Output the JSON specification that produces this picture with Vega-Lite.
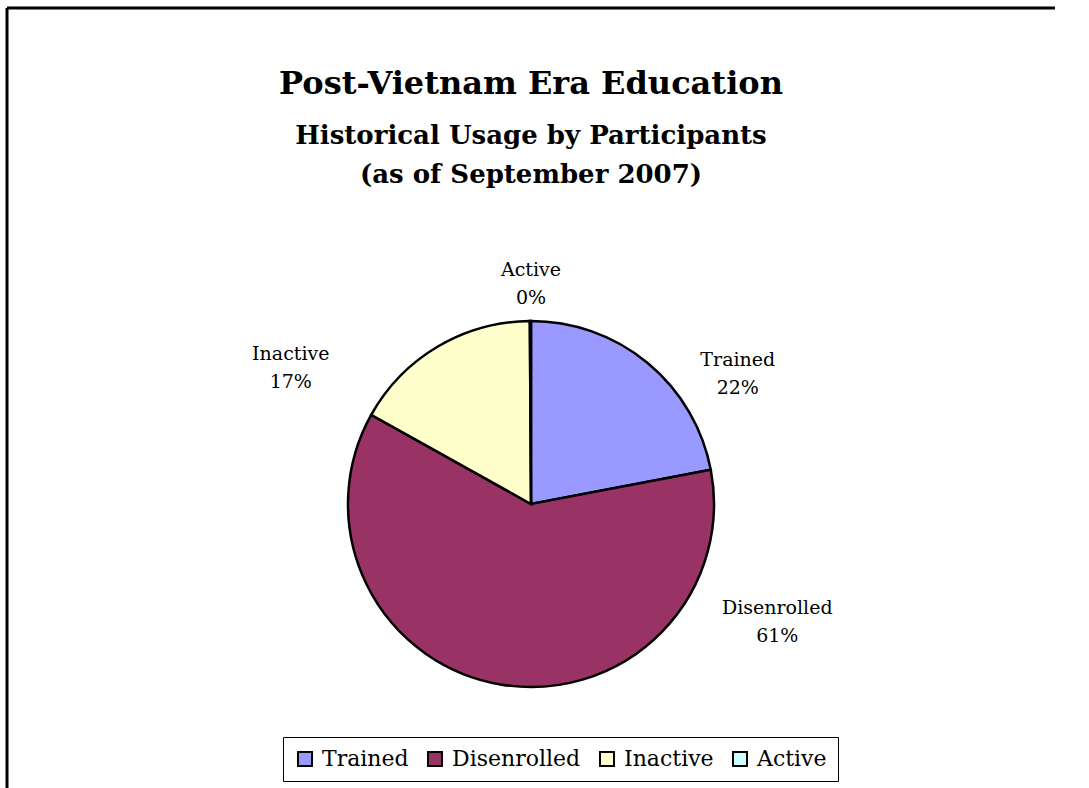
{
  "$schema": "https://vega.github.io/schema/vega-lite/v6.json",
  "width": 1048,
  "height": 992,
  "autosize": {"type": "none"},
  "padding": {"left": 7, "top": 8, "right": 0, "bottom": -212},
  "background": "white",
  "view": {"stroke": "black", "strokeWidth": 3, "fill": "white", "strokeDash": [1048, 2040, 992, 0]},
  "config": {
    "font": "DejaVu Serif"
  },
  "title": {
    "text": "Post-Vietnam Era Education",
    "subtitle": ["Historical Usage by Participants", "(as of September 2007)"],
    "anchor": "middle",
    "frame": "group",
    "orient": "top",
    "offset": -181,
    "font": "DejaVu Serif",
    "fontSize": 32,
    "fontWeight": "bold",
    "color": "black",
    "subtitleFont": "DejaVu Serif",
    "subtitleFontSize": 26,
    "subtitleFontWeight": "bold",
    "subtitleColor": "black",
    "subtitleLineHeight": 39,
    "subtitlePadding": 22
  },
  "data": {
    "values": [
      {"category": "Trained", "value": 22.0},
      {"category": "Disenrolled", "value": 61.1},
      {"category": "Inactive", "value": 16.8},
      {"category": "Active", "value": 0.1}
    ]
  },
  "transform": [
    {"joinaggregate": [{"op": "sum", "field": "value", "as": "total"}]},
    {"calculate": "indexof(['Trained','Disenrolled','Inactive','Active'], datum.category)", "as": "rank"},
    {"stack": "value", "groupby": [], "sort": [{"field": "rank", "order": "ascending"}], "as": ["v0", "v1"]},
    {"calculate": "(datum.v0 + datum.v1) / 2", "as": "mid"},
    {"calculate": "datum.category + '\\n' + format(datum.value / datum.total, '.0%')", "as": "label"}
  ],
  "layer": [
    {
      "mark": {"type": "arc", "radius": 183, "stroke": "black", "strokeWidth": 2.5},
      "encoding": {
        "theta": {"field": "v0", "type": "quantitative", "scale": {"domain": [0, 100]}},
        "theta2": {"field": "v1"},
        "color": {
          "field": "category",
          "type": "nominal",
          "scale": {
            "domain": ["Trained", "Disenrolled", "Inactive", "Active"],
            "range": ["#9999FF", "#993366", "#FFFFCC", "#CCFFFF"]
          },
          "legend": {
            "orient": "none",
            "legendX": 276,
            "legendY": 729,
            "direction": "horizontal",
            "title": null,
            "symbolType": "square",
            "symbolSize": 196,
            "symbolStrokeColor": "black",
            "symbolStrokeWidth": 2,
            "symbolOpacity": 1,
            "labelFont": "DejaVu Serif",
            "labelFontSize": 22,
            "labelColor": "black",
            "labelOffset": 6,
            "columnPadding": 15,
            "padding": 11,
            "strokeColor": "black",
            "fillColor": "white"
          }
        }
      }
    },
    {
      "transform": [{"filter": "datum.category == 'Trained'"}],
      "mark": {"type": "text", "radius": 244, "thetaOffset": 0.32, "dy": -14, "lineBreak": "\n", "fontSize": 19, "lineHeight": 28, "font": "DejaVu Serif", "color": "black"},
      "encoding": {"theta": {"field": "mid", "type": "quantitative"}, "text": {"field": "label"}}
    },
    {
      "transform": [{"filter": "datum.category == 'Disenrolled'"}],
      "mark": {"type": "text", "radius": 273, "thetaOffset": -1.285, "dy": -14, "lineBreak": "\n", "fontSize": 19, "lineHeight": 28, "font": "DejaVu Serif", "color": "black"},
      "encoding": {"theta": {"field": "mid", "type": "quantitative"}, "text": {"field": "label"}}
    },
    {
      "transform": [{"filter": "datum.category == 'Inactive'"}],
      "mark": {"type": "text", "radius": 276, "thetaOffset": -0.522, "dy": -14, "lineBreak": "\n", "fontSize": 19, "lineHeight": 28, "font": "DejaVu Serif", "color": "black"},
      "encoding": {"theta": {"field": "mid", "type": "quantitative"}, "text": {"field": "label"}}
    },
    {
      "transform": [{"filter": "datum.category == 'Active'"}],
      "mark": {"type": "text", "radius": 220, "thetaOffset": 0.003, "dy": -14, "lineBreak": "\n", "fontSize": 19, "lineHeight": 28, "font": "DejaVu Serif", "color": "black"},
      "encoding": {"theta": {"field": "mid", "type": "quantitative"}, "text": {"field": "label"}}
    }
  ]
}
